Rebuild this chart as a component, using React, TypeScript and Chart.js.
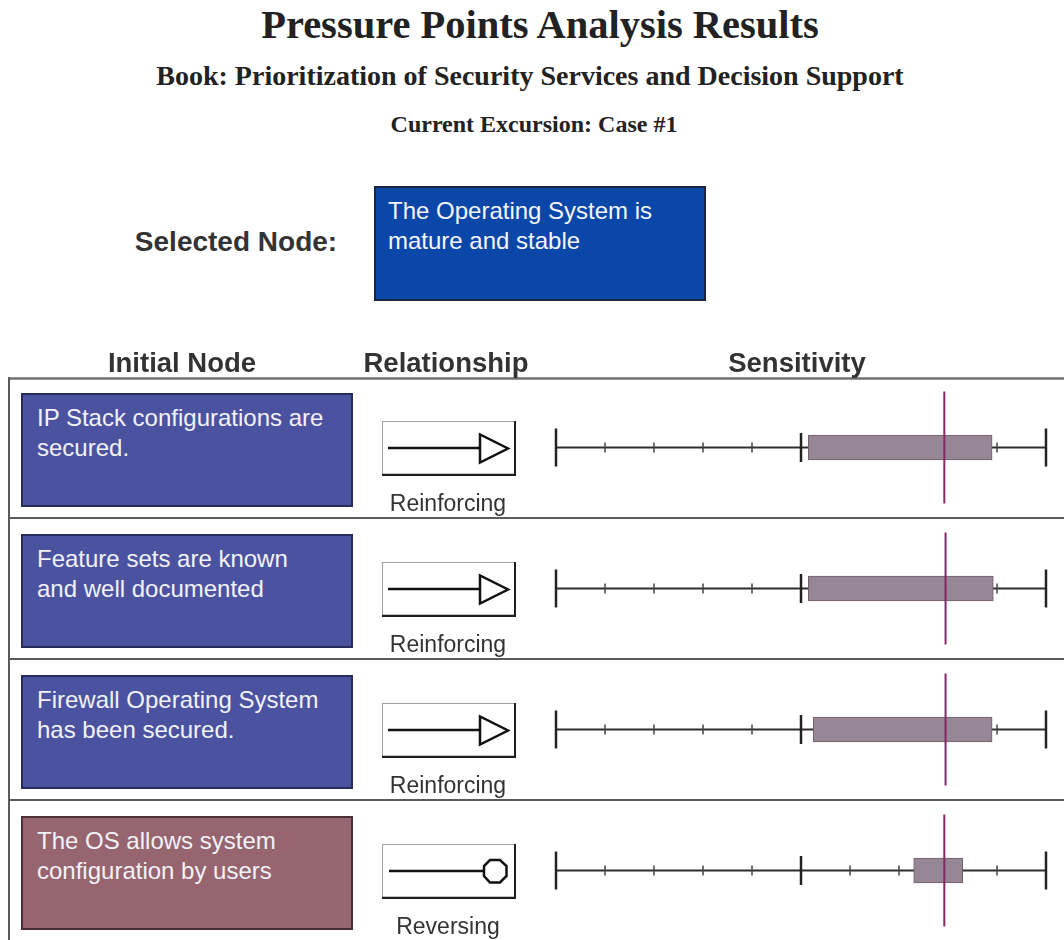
import React, { useEffect, useRef } from 'react';
import { Chart, registerables } from 'chart.js';

Chart.register(...registerables);

// ---------- data ----------
const titleText = 'Pressure Points Analysis Results';
const bookText = 'Book: Prioritization of Security Services and Decision Support';
const excursionText = 'Current Excursion: Case #1';
const selectedNodeLines = ['The Operating System is', 'mature and stable'];
const columnHeaders = ['Initial Node', 'Relationship', 'Sensitivity'];

const initialNodes = [
  ['IP Stack configurations are', 'secured.'],
  ['Feature sets are known', 'and well documented'],
  ['Firewall Operating System', 'has been secured.'],
  ['The OS allows system', 'configuration by users'],
];
const relationships = ['Reinforcing', 'Reinforcing', 'Reinforcing', 'Reversing'];
const sensitivityLow = [0.03, 0.03, 0.05, 0.46];
const sensitivityHigh = [0.78, 0.785, 0.78, 0.66];
const currentValue = [0.585, 0.59, 0.59, 0.585];
const axisTicks = [-1, -0.8, -0.6, -0.4, -0.2, 0, 0.2, 0.4, 0.6, 0.8, 1];
const majorTicks = [-1, 0, 1];

// ---------- layout constants ----------
const TABLE_TOP = 377;
const ROW_H = 141;
const TABLE_LEFT = 8;
const SANS = '"Liberation Sans", Arial, Helvetica, sans-serif';
const SERIF = '"Liberation Serif", "Times New Roman", serif';

const nodeFill: Record<string, string> = { Reinforcing: '#4b53a1', Reversing: '#96656f' };
const nodeBorder: Record<string, string> = { Reinforcing: '#272b5a', Reversing: '#4a2f36' };

const tablePlugin = {
  id: 'pressureTable',
  beforeDatasetsDraw(chart: any) {
    const { ctx, scales } = chart;
    const x = scales.x;
    const y = scales.y;
    const n = initialNodes.length;
    ctx.save();
    // frame
    ctx.strokeStyle = '#707070';
    ctx.lineWidth = 2.5;
    ctx.beginPath();
    ctx.moveTo(0, 1.5);
    ctx.lineTo(chart.width, 1.5);
    ctx.stroke();
    ctx.lineWidth = 2;
    ctx.strokeStyle = '#5a5a5a';
    ctx.beginPath();
    ctx.moveTo(1, 0);
    ctx.lineTo(1, chart.height);
    ctx.stroke();
    for (let i = 1; i < n; i++) {
      const yy = Math.round((y.getPixelForValue(i - 1) + y.getPixelForValue(i)) / 2);
      ctx.beginPath();
      ctx.moveTo(0, yy);
      ctx.lineTo(chart.width, yy);
      ctx.stroke();
    }
    // axis per row
    for (let i = 0; i < n; i++) {
      const cy = y.getPixelForValue(i);
      const x0 = x.getPixelForValue(axisTicks[0]);
      const x1 = x.getPixelForValue(axisTicks[axisTicks.length - 1]);
      ctx.strokeStyle = '#2e2e2e';
      ctx.lineWidth = 2;
      ctx.beginPath();
      ctx.moveTo(x0, cy);
      ctx.lineTo(x1, cy);
      ctx.stroke();
      axisTicks.forEach((t) => {
        const px = x.getPixelForValue(t);
        const isMajor = majorTicks.includes(t);
        const isEnd = t === axisTicks[0] || t === axisTicks[axisTicks.length - 1];
        const half = isEnd ? 19 : isMajor ? 14.5 : 5;
        ctx.lineWidth = isMajor ? 2.5 : 1.5;
        ctx.strokeStyle = isMajor ? '#222' : '#444';
        ctx.beginPath();
        ctx.moveTo(px, cy - half);
        ctx.lineTo(px, cy + half);
        ctx.stroke();
      });
    }
    ctx.restore();
  },
  afterDatasetsDraw(chart: any) {
    const { ctx, scales } = chart;
    const x = scales.x;
    const y = scales.y;
    ctx.save();
    ctx.strokeStyle = '#8a2566';
    ctx.lineWidth = 2;
    currentValue.forEach((v, i) => {
      const px = x.getPixelForValue(v);
      const cy = y.getPixelForValue(i);
      ctx.beginPath();
      ctx.moveTo(px, cy - 56);
      ctx.lineTo(px, cy + 56);
      ctx.stroke();
    });
    ctx.restore();
  },
};

function SensitivityChart() {
  const ref = useRef<HTMLCanvasElement | null>(null);
  useEffect(() => {
    if (!ref.current) return;
    const chart = new Chart(ref.current, {
      type: 'bar',
      data: {
        labels: initialNodes.map((l) => l.join(' ')),
        datasets: [
          {
            data: sensitivityLow.map((lo, i) => [lo, sensitivityHigh[i]]) as any,
            backgroundColor: '#978696',
            borderColor: '#6f5f6d',
            borderWidth: 1,
            borderSkipped: false,
            barThickness: 25,
          },
        ],
      },
      options: {
        indexAxis: 'y',
        responsive: false,
        animation: false,
        layout: { padding: { left: 548, right: 18, top: 0, bottom: 0 } },
        scales: {
          x: { type: 'linear', min: -1, max: 1, display: false },
          y: { type: 'category', display: false, offset: true },
        },
        plugins: { legend: { display: false }, tooltip: { enabled: false } },
      },
      plugins: [tablePlugin],
    });
    return () => chart.destroy();
  }, []);
  return (
    <canvas
      ref={ref}
      width={1056}
      height={ROW_H * 4}
      style={{ position: 'absolute', left: TABLE_LEFT, top: TABLE_TOP, width: 1056, height: ROW_H * 4, display: 'block' }}
    />
  );
}

function CenterText(props: { cx: number; top: number; size: number; family: string; color: string; text: string }) {
  return (
    <div
      style={{
        position: 'absolute',
        left: props.cx - 500,
        width: 1000,
        top: props.top,
        textAlign: 'center',
        fontFamily: props.family,
        fontWeight: 'bold',
        fontSize: props.size,
        lineHeight: props.size + 'px',
        color: props.color,
        whiteSpace: 'nowrap',
      }}
    >
      {props.text}
    </div>
  );
}

function RelIcon(props: { kind: string }) {
  const w = 134;
  const h = 55;
  return (
    <svg width={w} height={h} style={{ display: 'block' }}>
      <rect x={0} y={0} width={w} height={h} fill="#ffffff" />
      <line x1={0} y1={0.5} x2={w} y2={0.5} stroke="#a0a0a0" strokeWidth={1} />
      <line x1={0.5} y1={0} x2={0.5} y2={h} stroke="#a0a0a0" strokeWidth={1} />
      <line x1={w - 1} y1={0} x2={w - 1} y2={h} stroke="#1e1e1e" strokeWidth={2} />
      <line x1={0} y1={h - 1} x2={w} y2={h - 1} stroke="#1e1e1e" strokeWidth={2.5} />
      {props.kind === 'Reinforcing' ? (
        <g>
          <line x1={6} y1={27} x2={98} y2={27} stroke="#111" strokeWidth={2.5} />
          <polygon points="98,13.5 98,41.5 126,27.5" fill="#fff" stroke="#111" strokeWidth={2.5} />
        </g>
      ) : (
        <g>
          <line x1={7} y1={27} x2={102} y2={27} stroke="#111" strokeWidth={2.5} />
          <polygon
            points="108,16 118,16 124.5,22 124.5,32 118,38.5 108,38.5 102,32 102,22"
            fill="#fff"
            stroke="#111"
            strokeWidth={2.5}
          />
        </g>
      )}
    </svg>
  );
}

export default function App() {
  return (
    <div
      style={{
        position: 'absolute',
        left: 0,
        top: 0,
        width: 1064,
        height: 940,
        overflow: 'hidden',
        background: '#ffffff',
      }}
    >
      <SensitivityChart />

      <CenterText cx={540} top={5} size={40.5} family={SERIF} color="#222" text={titleText} />
      <CenterText cx={530} top={62} size={28} family={SERIF} color="#222" text={bookText} />
      <CenterText cx={534} top={112} size={24} family={SERIF} color="#222" text={excursionText} />

      <CenterText cx={236} top={228} size={28} family={SANS} color="#333" text="Selected Node:" />
      <div
        style={{
          position: 'absolute',
          left: 374,
          top: 186,
          width: 332,
          height: 115,
          boxSizing: 'border-box',
          border: '2px solid #1c2440',
          background: '#0a47a9',
          padding: '8px 12px',
          color: '#f4f6fb',
          fontFamily: SANS,
          fontSize: 24,
          lineHeight: '30px',
        }}
      >
        {selectedNodeLines.map((l, i) => (
          <div key={i}>{l}</div>
        ))}
      </div>

      <CenterText cx={182} top={349} size={27.5} family={SANS} color="#333" text={columnHeaders[0]} />
      <CenterText cx={446} top={349} size={27.5} family={SANS} color="#333" text={columnHeaders[1]} />
      <CenterText cx={797} top={349} size={27.5} family={SANS} color="#333" text={columnHeaders[2]} />

      {initialNodes.map((lines, i) => {
        const rowTop = TABLE_TOP + i * ROW_H;
        const rel = relationships[i];
        return (
          <React.Fragment key={i}>
            <div
              style={{
                position: 'absolute',
                left: 21,
                top: rowTop + 16,
                width: 332,
                height: 114,
                boxSizing: 'border-box',
                border: '2px solid ' + nodeBorder[rel],
                background: nodeFill[rel],
                padding: '8px 14px',
                color: '#f2f2f8',
                fontFamily: SANS,
                fontSize: 24,
                lineHeight: '30px',
              }}
            >
              {lines.map((l, j) => (
                <div key={j} style={{ whiteSpace: 'nowrap' }}>{l}</div>
              ))}
            </div>
            <div style={{ position: 'absolute', left: 382, top: rowTop + 44 }}>
              <RelIcon kind={rel} />
            </div>
            <div
              style={{
                position: 'absolute',
                left: 348,
                width: 200,
                top: rowTop + 115,
                textAlign: 'center',
                fontFamily: SANS,
                fontSize: 23,
                lineHeight: '23px',
                color: '#333',
              }}
            >
              {rel}
            </div>
          </React.Fragment>
        );
      })}
    </div>
  );
}
